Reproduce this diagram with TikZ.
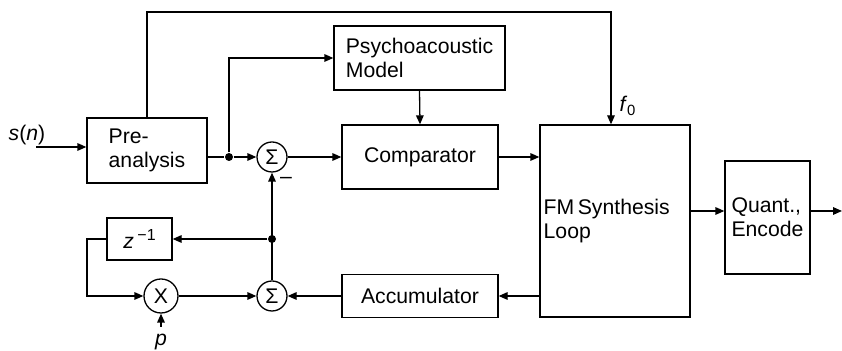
\documentclass[tikz,border=0pt]{standalone}
\usepackage{fontspec}
\setmainfont{Liberation Sans}
\usepackage{tikz}
\usetikzlibrary{arrows.meta}

\begin{document}
\begin{tikzpicture}[x=0.5pt, y=-0.5pt, line width=0.65pt,
  font=\fontsize{10.6}{12}\selectfont,
  arr/.style={-{Triangle[length=4.5pt,width=3.8pt]}},
  blk/.style={draw, rectangle, inner sep=0pt},
  sumnode/.style={draw, circle, inner sep=0pt, minimum size=15pt},
  dot/.style={circle, fill, inner sep=0pt, minimum size=4pt}]
\useasboundingbox (0,0) rectangle (842,351);

% Blocks
\node[blk, minimum width=60pt, minimum height=32.5pt, align=left] (pre) at (147,150.5) {Pre-\\analysis};
\node[blk, minimum width=85.5pt, minimum height=32pt, align=left] (psy) at (419.5,58) {Psychoacoustic\\Model};
\node[blk, minimum width=78pt, minimum height=32pt] (comp) at (420,157) {Comparator};
\node[blk, minimum width=75pt, minimum height=96pt, align=left] (fm) at (615,221) {FM\,Synthesis\\Loop\hphantom{\,Synthesis}};
\node[blk, minimum width=42.5pt, minimum height=56.5pt, align=left] (quant) at (767.5,217.5) {Quant.,\\Encode};
\node[blk, minimum width=78pt, minimum height=21.5pt] (acc) at (420,296) {Accumulator};
\node[blk, minimum width=32.5pt, minimum height=21pt] (zinv) at (139.5,239) {\textit{z}\,\raisebox{0.75ex}{\fontsize{8}{8}\selectfont −1}};

% Summers and multiplier
\node[sumnode] (sumA) at (272,157) {Σ};
\node[sumnode] (sumB) at (272,296) {Σ};
\node[sumnode, minimum size=17pt] (mult) at (161,296) {X};

% Junctions and free ends
\node[dot] (jA) at (229,157) {};
\node[dot] (jB) at (272,239) {};
\coordinate (sin) at (36,147);
\coordinate (ftop) at (611,12);
\coordinate (zleft) at (87,239);
\coordinate (qout) at (842,211);

% Labels
\node (slab) at (27,135) {\textit{s}(\textit{n})};
\node (flab) at (628,106) {\textit{f}\textsubscript{0}};
\node (plab) at (161,342) {\textit{p}};
\node (minus) at (286,180) {–};

% Forward path
\draw[arr] (sin) -- (sin -| pre.west);
\draw (pre.east |- jA) -- (jA);
\draw[arr] (jA) -- (sumA.west);
\draw[arr] (jA) |- (psy.west);
\draw[arr] (psy.south) -- (comp.north);
\draw[arr] (sumA.east) -- (comp.west);
\draw[arr] (comp.east) -- (comp.east -| fm.west);
\draw[arr] (pre.north) |- (ftop) -- (ftop |- fm.north);
\draw[arr] (fm.east |- qout) -- (qout -| quant.west);
\draw[arr] (quant.east |- qout) -- (qout);

% Feedback path
\draw[arr] (fm.west |- acc.east) -- (acc.east);
\draw[arr] (acc.west) -- (sumB.east);
\draw[arr] (sumB.north) -- (sumA.south);
\draw[arr] (jB) -- (zinv.east);
\draw[arr] (zinv.west) -- (zleft) |- (mult.west);
\draw[arr] (mult.east) -- (sumB.west);
\draw[arr] (plab.north) -- (mult.south);
\end{tikzpicture}
\end{document}
